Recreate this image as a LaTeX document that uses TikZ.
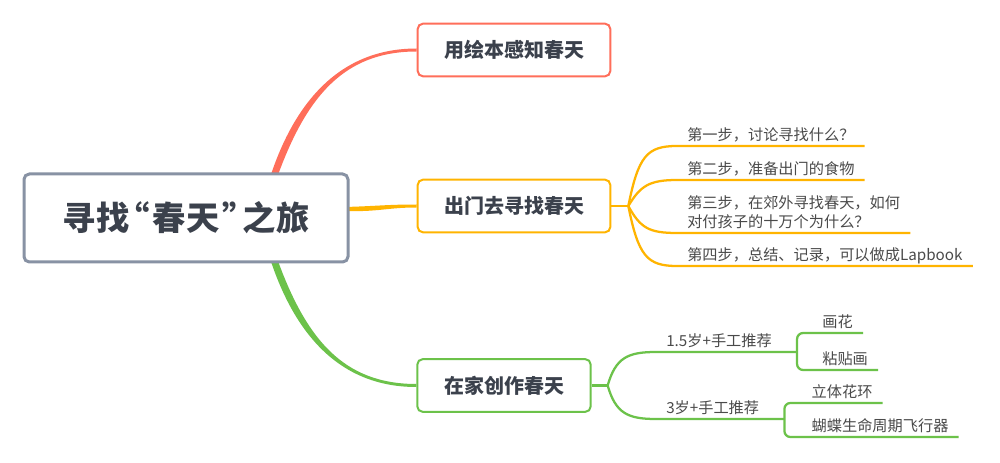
\documentclass[tikz,border=0pt]{standalone}
\usepackage{fontspec}
\setmainfont{Noto Sans CJK SC}
\usetikzlibrary{calc}
\pgfdeclarelayer{back}
\pgfdeclarelayer{bg}
\pgfsetlayers{back,bg,main}
\definecolor{cred}{HTML}{FF6E5A}
\definecolor{corange}{HTML}{FFB400}
\definecolor{cgreen}{HTML}{6CC24A}
\definecolor{cgray}{HTML}{8892A4}
\definecolor{ctext}{HTML}{3B414C}
\definecolor{cleaf}{HTML}{4A4A4A}
\begin{document}
\begin{tikzpicture}[x=0.75pt,y=-0.75pt,
  rootbox/.style={draw=cgray, line width=2.25pt, fill=white, rounded corners=4pt,
    minimum width=243pt, minimum height=66pt, inner sep=0pt,
    font=\fontsize{25}{30}\selectfont\bfseries, text=ctext},
  mainbox/.style={line width=1.5pt, fill=white, rounded corners=4pt,
    minimum height=39.5pt, inner sep=0pt,
    font=\fontsize{15}{18}\selectfont\bfseries, text=ctext},
  leaf/.style={anchor=south west, inner xsep=7.5pt, inner ysep=0pt, text depth=4pt,
    font=\fontsize{11.4}{14.25}\selectfont, text=cleaf, align=left},
  oline/.style={draw=corange, line width=1.7pt},
  gline/.style={draw=cgreen, line width=1.7pt},
]
\useasboundingbox (0,0) rectangle (1000,463);
\begin{pgfonlayer}{back}
\fill[white] (0,0) rectangle (1000,463);
\end{pgfonlayer}

% main topics
\node[rootbox] (root) at (186,218) {寻找\kern-0.4em“\kern0.1em春天\kern0.1em”\kern-0.4em之旅};
\node[mainbox, draw=cred, minimum width=144.5pt] (b1) at (514,50) {用绘本感知春天};
\node[mainbox, draw=corange, minimum width=144.5pt] (b2) at (514,206) {出门去寻找春天};
\node[mainbox, draw=cgreen, minimum width=130pt] (b3) at (504,385.5) {在家创作春天};

% tapered main branches
\begin{pgfonlayer}{bg}
\coordinate (rs) at ($(root.north west)+(250,8)$);
\fill[cred] ($(rs)+(-3.5,0)$) .. controls +(27,-85) and +(-72,0) .. ($(b1.west)+(0,-1.5)$)
  -- ($(b1.west)+(0,1.5)$) .. controls +(-72,0) and +(30,-85) .. ($(rs)+(3.5,0)$) -- cycle;
\coordinate (gs) at ($(root.south west)+(250,-8)$);
\fill[cgreen] ($(gs)+(-3.5,0)$) .. controls +(27,85) and +(-72,0) .. ($(b3.west)+(0,1.5)$)
  -- ($(b3.west)+(0,-1.5)$) .. controls +(-72,0) and +(30,85) .. ($(gs)+(3.5,0)$) -- cycle;
\fill[corange] ($(root.east)+(-5,-11)$) .. controls +(35,-1) and +(-30,0) .. ($(b2.west)+(0,-1.5)$)
  -- ($(b2.west)+(0,1.5)$) .. controls +(-30,0) and +(35,1) .. ($(root.east)+(-5,-7)$) -- cycle;
\end{pgfonlayer}

% orange sub topics
\node[leaf] (o1) at (677,146) {第一步，讨论寻找什么？};
\node[leaf] (o2) at (677,180) {第二步，准备出门的食物};
\node[leaf] (o3) at (677,233) {第三步，在郊外寻找春天，如何\\对付孩子的十万个为什么？};
\node[leaf] (o4) at (677,266) {第四步，总结、记录，可以做成Lapbook};
\coordinate (of) at ($(b2.east)+(17,0)$);
\draw[oline] (b2.east) -- (of);
\draw[oline] (of) .. controls +(10,-50) and +(-30,0) .. (o1.south west) -- (o1.south east);
\draw[oline] (of) .. controls +(12,-20) and +(-28,0) .. (o2.south west) -- (o2.south east);
\draw[oline] (of) .. controls +(12,22) and +(-28,0) .. (o3.south west) -- (o3.south east);
\draw[oline] (of) .. controls +(10,50) and +(-30,0) .. (o4.south west) -- (o4.south east);

% green sub topics
\node[leaf] (g1) at (656,352) {1.5岁+手工推荐};
\node[leaf] (g2) at (656,419) {3岁+手工推荐};
\coordinate (gf) at ($(b3.east)+(16,0)$);
\draw[gline] (b3.east) -- (gf);
\draw[gline] (gf) .. controls +(8,-28) and +(-28,0) .. (g1.south west) -- ($(g1.south east)+(15,0)$) coordinate (g1b);
\draw[gline] (gf) .. controls +(8,28) and +(-28,0) .. (g2.south west) -- ($(g2.south east)+(15,0)$) coordinate (g2b);

\node[leaf] (g11) at ($(g1b)+(15,-19)$) {画花};
\node[leaf] (g12) at ($(g1b)+(15,18)$) {粘贴画};
\node[leaf] (g21) at ($(g2b)+(17,-16)$) {立体花环};
\node[leaf] (g22) at ($(g2b)+(17,18)$) {蝴蝶生命周期飞行器};
\draw[gline, rounded corners=4.5pt] (g11.south east) -- (g11.south west) -| (g1b) |- (g12.south west) -- (g12.south east);
\draw[gline, rounded corners=4.5pt] (g21.south east) -- (g21.south west) -| (g2b) |- (g22.south west) -- (g22.south east);
\end{tikzpicture}
\end{document}
